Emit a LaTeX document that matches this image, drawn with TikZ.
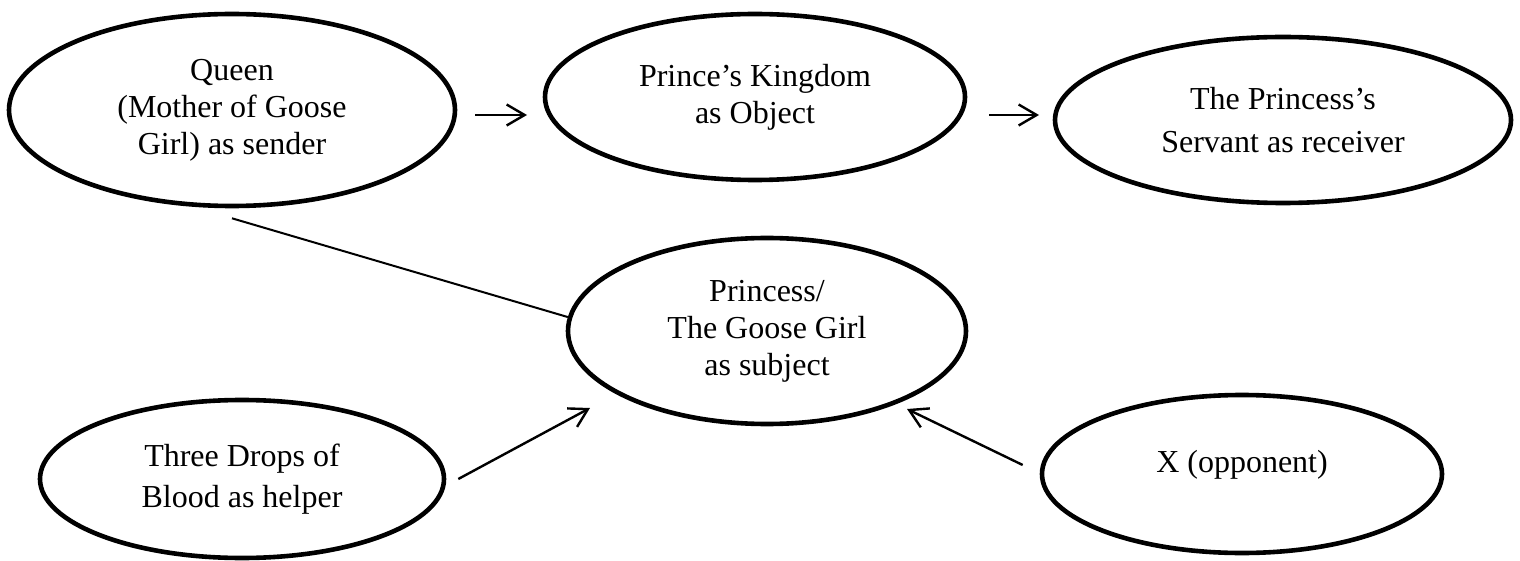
\documentclass[tikz,border=0pt]{standalone}
\usepackage{fontspec}
\setmainfont{Liberation Serif}
\usetikzlibrary{shapes.geometric,arrows.meta}

\begin{document}
\begin{tikzpicture}[x=0.5pt,y=-0.5pt,
   actant/.style={ellipse,draw,line width=2.3pt,inner sep=0pt,align=center,
      font=\fontsize{16}{18.5}\selectfont},
   link/.style={line width=1pt},
   arr/.style={line width=1.2pt,-{Straight Barb[length=9pt,width=10.5pt]}}]
   \useasboundingbox (0,0) rectangle (1520,561);
   % Sender
   \node[actant,minimum width=223pt,minimum height=96pt] (queen) at (232,110)
      {Queen\\(Mother of Goose\\Girl) as sender};
   % Object
   \node[actant,minimum width=210pt,minimum height=83pt] (kingdom) at (755,97)
      {Prince’s Kingdom\\as Object};
   % Receiver
   \node[actant,minimum width=228pt,minimum height=83pt,
      font=\fontsize{16}{21.5}\selectfont] (servant) at (1283,120)
      {The Princess’s\\Servant as receiver};
   % Subject
   \node[actant,minimum width=199pt,minimum height=93pt] (subject) at (767,331)
      {Princess/\\The Goose Girl\\as subject};
   % Helper
   \node[actant,minimum width=202pt,minimum height=79pt,
      font=\fontsize{16}{20.5}\selectfont] (drops) at (242,479)
      {Three Drops of\\Blood as helper};
   % Opponent
   \node[actant,minimum width=200pt,minimum height=79pt,text depth=13pt]
      (opponent) at (1242,474) {X (opponent)};
   % Arrow ends
   \coordinate (sendout) at (475,115);
   \coordinate (objin)   at (527,115);
   \coordinate (objout)  at (989,115);
   \coordinate (recvin)  at (1039,115);
   \coordinate (helpin)  at (590,408);
   \coordinate (oppin)   at (907,409);
   % Axis of communication
   \draw[arr] (sendout) -- (objin);
   \draw[arr] (objout) -- (recvin);
   % Sender to subject
   \draw[link] (queen.south) ++(0,10) -- (subject.176);
   % Helper and opponent
   \draw[arr] (drops.east) ++(12,0) -- (helpin);
   \draw[arr] (opponent.west) ++(-17,-9) -- (oppin);
\end{tikzpicture}
\end{document}
